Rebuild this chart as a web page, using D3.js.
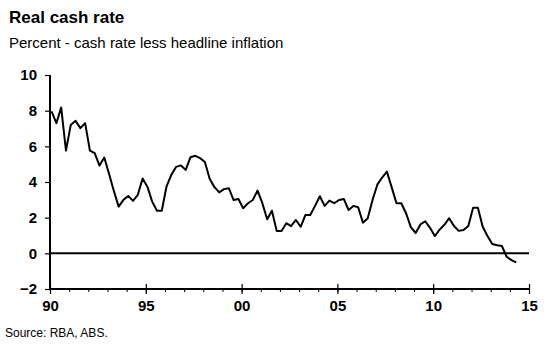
<!DOCTYPE html>
<html>
<head>
<meta charset="utf-8">
<script src="https://cdn.jsdelivr.net/npm/d3@7"></script>
<style>
  html, body { margin: 0; padding: 0; background: #fff; }
  svg { display: block; }
  text { font-family: "Liberation Sans", Arial, sans-serif; fill: #000; }
</style>
</head>
<body>
<svg id="chart" width="551" height="346"></svg>
<script>
// ---- Data ----
const title = "Real cash rate";
const subtitle = "Percent - cash rate less headline inflation";
const source = "Source: RBA, ABS.";

const quarters = [
  "1990Q1","1990Q2","1990Q3","1990Q4","1991Q1","1991Q2","1991Q3","1991Q4",
  "1992Q1","1992Q2","1992Q3","1992Q4","1993Q1","1993Q2","1993Q3","1993Q4",
  "1994Q1","1994Q2","1994Q3","1994Q4","1995Q1","1995Q2","1995Q3","1995Q4",
  "1996Q1","1996Q2","1996Q3","1996Q4","1997Q1","1997Q2","1997Q3","1997Q4",
  "1998Q1","1998Q2","1998Q3","1998Q4","1999Q1","1999Q2","1999Q3","1999Q4",
  "2000Q1","2000Q2","2000Q3","2000Q4","2001Q1","2001Q2","2001Q3","2001Q4",
  "2002Q1","2002Q2","2002Q3","2002Q4","2003Q1","2003Q2","2003Q3","2003Q4",
  "2004Q1","2004Q2","2004Q3","2004Q4","2005Q1","2005Q2","2005Q3","2005Q4",
  "2006Q1","2006Q2","2006Q3","2006Q4","2007Q1","2007Q2","2007Q3","2007Q4",
  "2008Q1","2008Q2","2008Q3","2008Q4","2009Q1","2009Q2","2009Q3","2009Q4",
  "2010Q1","2010Q2","2010Q3","2010Q4","2011Q1","2011Q2","2011Q3","2011Q4",
  "2012Q1","2012Q2","2012Q3","2012Q4","2013Q1","2013Q2","2013Q3","2013Q4",
  "2014Q1","2014Q2"
];

const realCashRate = [
  7.96, 7.30, 8.18, 5.76, 7.20, 7.43, 7.02, 7.30,
  5.76, 5.62, 4.92, 5.37, 4.45, 3.50, 2.62, 3.00,
  3.22, 2.94, 3.28, 4.20, 3.74, 2.90, 2.39, 2.39,
  3.76, 4.40, 4.85, 4.93, 4.68, 5.39, 5.47, 5.34,
  5.12, 4.18, 3.71, 3.42, 3.60, 3.65, 2.99, 3.05,
  2.53, 2.81, 2.99, 3.52, 2.81, 1.91, 2.39, 1.25,
  1.25, 1.69, 1.53, 1.87, 1.49, 2.15, 2.15, 2.66,
  3.20, 2.66, 2.96, 2.81, 2.99, 3.05, 2.43, 2.66,
  2.58, 1.72, 1.97, 2.99, 3.85, 4.25, 4.58, 3.70,
  2.81, 2.81, 2.25, 1.47, 1.14, 1.62, 1.80, 1.43,
  0.97, 1.33, 1.60, 1.97, 1.53, 1.26, 1.31, 1.53,
  2.56, 2.56, 1.49, 0.97, 0.52, 0.45, 0.41, -0.19,
  -0.38, -0.51
];

const yTicks = [-2, 0, 2, 4, 6, 8, 10];
const xMajorTicks = [1990, 1995, 2000, 2005, 2010, 2015];
const xMajorLabels = ["90", "95", "00", "05", "10", "15"];
const xMinorTicks = d3.range(1990, 2016);

// ---- Layout ----
const svg = d3.select("#chart");
const plotLeft = 50, plotRight = 529, plotTop = 75, plotBottom = 289;

const x = d3.scaleLinear().domain([1990, 2015]).range([plotLeft, plotRight]);
const y = d3.scaleLinear().domain([-2, 10]).range([plotBottom, plotTop]);

function qToYear(q) {
  const yr = +q.slice(0, 4);
  const qi = +q.slice(5) - 1;
  return yr + qi / 4 + 1 / 12;
}
const data = quarters.map((q, i) => ({ t: qToYear(q), v: realCashRate[i] }));

// Titles
svg.append("text").attr("x", 9).attr("y", 23)
  .style("font-size", "17px").style("font-weight", "bold").text(title);
svg.append("text").attr("x", 9).attr("y", 48)
  .style("font-size", "15px").text(subtitle);

// Y axis
const yAxis = d3.axisLeft(y).tickValues(yTicks).tickSize(5).tickPadding(8)
  .tickFormat(d3.format("d"));
const gy = svg.append("g").attr("transform", `translate(${plotLeft},0)`).call(yAxis);
gy.select(".domain").remove();
gy.selectAll(".tick line").attr("stroke", "#000").attr("stroke-width", 1.2);
gy.selectAll(".tick text").style("font-size", "15px").style("font-weight", "bold")
  .style("font-family", "'Liberation Sans', Arial, sans-serif").attr("fill", "#000");
svg.append("line").attr("x1", plotLeft).attr("x2", plotLeft).attr("y1", plotTop).attr("y2", plotBottom + 1)
  .attr("stroke", "#000").attr("stroke-width", 2);

// X axis: minor ticks
const xMinor = d3.axisBottom(x).tickValues(xMinorTicks).tickSize(3).tickFormat("");
const gxm = svg.append("g").attr("transform", `translate(0,${plotBottom})`).call(xMinor);
gxm.select(".domain").remove();
gxm.selectAll(".tick line").attr("stroke", "#000").attr("stroke-width", 1);

// X axis: major ticks (cross the axis)
const xMajor = d3.axisBottom(x).tickValues(xMajorTicks).tickSize(5).tickPadding(6)
  .tickFormat((d, i) => xMajorLabels[i]);
const gx = svg.append("g").attr("transform", `translate(0,${plotBottom})`).call(xMajor);
gx.select(".domain").remove();
gx.selectAll(".tick line").attr("y1", -5).attr("y2", 5).attr("stroke", "#000").attr("stroke-width", 1.2);
gx.selectAll(".tick text").style("font-size", "15px").style("font-weight", "bold")
  .style("font-family", "'Liberation Sans', Arial, sans-serif").attr("fill", "#000");
svg.append("line").attr("x1", plotLeft).attr("x2", plotRight).attr("y1", plotBottom).attr("y2", plotBottom)
  .attr("stroke", "#000").attr("stroke-width", 2);

// Zero line
svg.append("line").attr("x1", plotLeft).attr("x2", plotRight).attr("y1", y(0)).attr("y2", y(0))
  .attr("stroke", "#000").attr("stroke-width", 2);

// Series line
const line = d3.line().x(d => x(d.t)).y(d => y(d.v));
svg.append("path").datum(data).attr("d", line)
  .attr("fill", "none").attr("stroke", "#000").attr("stroke-width", 2)
  .attr("stroke-linejoin", "round");

// Source
svg.append("text").attr("x", 5).attr("y", 337)
  .style("font-size", "12px").text(source);
</script>
</body>
</html>
